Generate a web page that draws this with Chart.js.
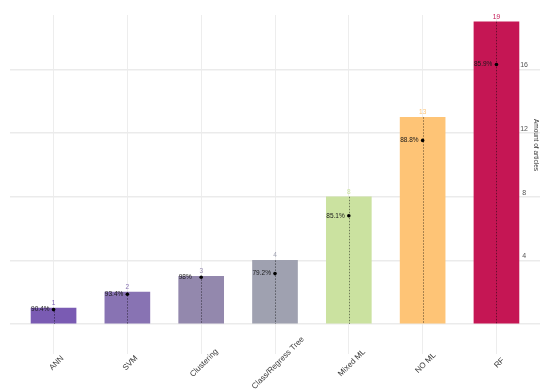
<!DOCTYPE html>
<html>
<head>
<meta charset="utf-8">
<script src="https://cdn.jsdelivr.net/npm/chart.js@4.4.0/dist/chart.umd.min.js"></script>
<style>
  html, body { margin: 0; padding: 0; background: #fff; }
  #wrap { width: 550px; height: 390px; position: relative; }
</style>
</head>
<body>
<div id="wrap"><canvas id="articlesChart"></canvas></div>
<script>
const categories = ["ANN", "SVM", "Clustering", "Class/Regress Tree", "Mixed ML", "NO ML", "RF"];
const articleCounts = [1, 2, 3, 4, 8, 13, 19];
const shares = [90.4, 93.4, 98, 79.2, 85.1, 88.8, 85.9]; // percent labels
const barColors = ["#7a5bb3", "#8873b3", "#9388ad", "#9fa1b0", "#cbe2a0", "#fec476", "#c51654"];
const yTicks = [0, 4, 8, 12, 16];

const fontFamily = "'Liberation Sans', Arial, sans-serif";

const barData = articleCounts.map((v, i) => ({ x: i, y: v }));
const dotData = articleCounts.map((v, i) => ({ x: i, y: v * shares[i] / 100 }));

const labelsPlugin = {
  id: "labelsPlugin",
  afterDatasetDraw(chart, args) {
    if (args.index !== 0) return;
    const ctx = chart.ctx;
    const xs = chart.scales.x;
    const ys = chart.scales.y;
    ctx.save();
    ctx.strokeStyle = "rgba(0,0,0,0.45)";
    ctx.lineWidth = 1;
    ctx.setLineDash([1.5, 1.5]);
    articleCounts.forEach((v, i) => {
      const x = Math.round(xs.getPixelForValue(i)) + 0.5;
      ctx.beginPath();
      ctx.moveTo(x, ys.getPixelForValue(v));
      ctx.lineTo(x, ys.getPixelForValue(0));
      ctx.stroke();
    });
    ctx.restore();
  },
  afterDraw(chart) {
    const ctx = chart.ctx;
    const xs = chart.scales.x;
    const ys = chart.scales.y;
    const half = 22.5;
    ctx.save();
    articleCounts.forEach((v, i) => {
      const x = xs.getPixelForValue(i);
      // count above bar
      ctx.font = "6.5px " + fontFamily;
      ctx.fillStyle = barColors[i];
      ctx.textAlign = "center";
      ctx.textBaseline = "bottom";
      ctx.fillText(String(v), x, ys.getPixelForValue(v) - 1.5);
      // share label
      ctx.fillStyle = "#1a1a1a";
      ctx.textAlign = "left";
      ctx.textBaseline = "middle";
      ctx.fillText(shares[i] + "%", x - half, ys.getPixelForValue(v * shares[i] / 100));
      // category label
      ctx.save();
      ctx.translate(x + 3, 363);
      ctx.rotate(-Math.PI / 4);
      ctx.font = "8px " + fontFamily;
      ctx.fillStyle = "#3a3a3a";
      ctx.textAlign = "center";
      ctx.textBaseline = "middle";
      ctx.fillText(categories[i], 0, 0);
      ctx.restore();
    });
    // axis title
    ctx.translate(536, 145);
    ctx.rotate(Math.PI / 2);
    ctx.font = "6.5px " + fontFamily;
    ctx.fillStyle = "#333";
    ctx.textAlign = "center";
    ctx.textBaseline = "middle";
    ctx.fillText("Amount of articles", 0, 0);
    ctx.restore();
  }
};

new Chart(document.getElementById("articlesChart"), {
  type: "bar",
  data: {
    datasets: [
      {
        type: "bar",
        data: barData,
        backgroundColor: barColors,
        borderWidth: 0,
        barThickness: 45,
        order: 2
      },
      {
        type: "line",
        data: dotData,
        showLine: false,
        pointRadius: 1.8,
        pointBackgroundColor: "#000",
        pointBorderWidth: 0,
        order: 1
      }
    ]
  },
  options: {
    responsive: true,
    maintainAspectRatio: false,
    animation: false,
    layout: { padding: { left: 10, right: 10, top: 15, bottom: 36 } },
    plugins: { legend: { display: false }, tooltip: { enabled: false } },
    scales: {
      x: {
        type: "linear",
        offset: false,
        min: -0.59,
        max: 6.59,
        afterBuildTicks: (s) => { s.ticks = categories.map((c, i) => ({ value: i })); },
        ticks: { display: false },
        grid: { offset: false, color: "#ededed", lineWidth: 1, tickLength: 30, tickColor: "#ededed" },
        border: { display: false }
      },
      y: {
        position: "right",
        min: 0,
        max: 19.43,
        afterBuildTicks: (s) => { s.ticks = yTicks.map(v => ({ value: v })); },
        afterFit: (s) => { s.width = 0; },
        ticks: {
          mirror: true,
          crossAlign: "center",
          padding: -12,
          labelOffset: -4,
          color: "#555",
          font: { size: 7, family: fontFamily },
          callback: (v) => (v === 0 ? "" : v)
        },
        grid: { color: "#ebebeb", lineWidth: 1.5, drawTicks: false },
        border: { display: false }
      }
    }
  },
  plugins: [labelsPlugin]
});
</script>
</body>
</html>
